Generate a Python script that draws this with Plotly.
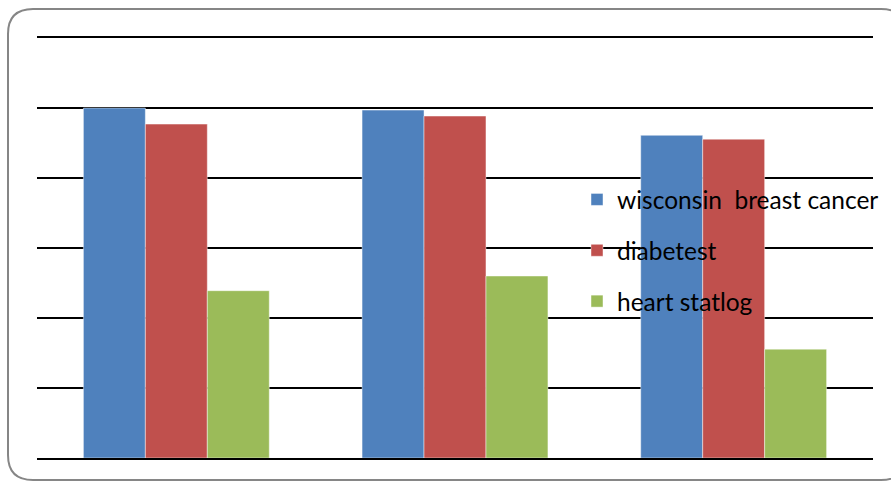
import plotly.graph_objects as go

# Three groups of bars, one bar per dataset
groups = ["1", "2", "3"]
wisconsin = [100.0, 99.4, 92.2]
diabetes = [95.4, 97.7, 91.1]
heart = [47.8, 52.0, 31.1]

series_names = ["wisconsin\u00a0 breast cancer", "diabetest", "heart statlog"]
colors = ["#4F81BD", "#C0504D", "#9BBB59"]

W, H = 891, 481
L, R, T, B = 37, 18, 38, 23
plot_w = W - L - R
plot_h = H - T - B


def px(x):
    return (x - L) / plot_w


def py(y):
    return (H - B - y) / plot_h


fig = go.Figure()
for i, (name, vals) in enumerate(zip(series_names, [wisconsin, diabetes, heart])):
    fig.add_trace(go.Bar(
        x=groups, y=vals, name=name,
        marker=dict(color=colors[i], line=dict(color="rgba(255,255,255,0.45)", width=1)),
        legendgroup=f"g{i}",
    ))

# rounded frame around the chart
x0, y0, x1, y1, r = 8, 9, 906, 480, 25
path = (
    f"M {px(x0 + r)},{py(y0)} L {px(x1 - r)},{py(y0)} "
    f"Q {px(x1)},{py(y0)} {px(x1)},{py(y0 + r)} "
    f"L {px(x1)},{py(y1 - r)} Q {px(x1)},{py(y1)} {px(x1 - r)},{py(y1)} "
    f"L {px(x0 + r)},{py(y1)} Q {px(x0)},{py(y1)} {px(x0)},{py(y1 - r)} "
    f"L {px(x0)},{py(y0 + r)} Q {px(x0)},{py(y0)} {px(x0 + r)},{py(y0)} Z"
)
fig.add_shape(type="path", path=path, xref="paper", yref="paper",
              line=dict(color="#868686", width=2), layer="below")

fig.update_layout(
    width=W, height=H, autosize=False,
    margin=dict(l=L, r=R, t=T, b=B, pad=0, autoexpand=False),
    paper_bgcolor="white", plot_bgcolor="white",
    barmode="group", bargap=0.333, bargroupgap=0,
    font=dict(family="Lato, Carlito, Calibri, sans-serif", size=24.5, color="#000000"),
    showlegend=True,
    legend=dict(
        x=px(577), xanchor="left", y=py(177), yanchor="top",
        bgcolor="rgba(0,0,0,0)", borderwidth=0,
        tracegroupgap=16, traceorder="grouped",
        font=dict(size=24.5),
    ),
    xaxis=dict(showticklabels=False, ticks="", showgrid=False, mirror=True,
               showline=True, linecolor="#000000", linewidth=2, zeroline=False),
    yaxis=dict(range=[0, 120], dtick=20, tick0=0, showticklabels=False, ticks="",
               showgrid=True, gridcolor="#000000", gridwidth=2,
               zeroline=False, showline=False),
)

fig.write_html("out.html")
